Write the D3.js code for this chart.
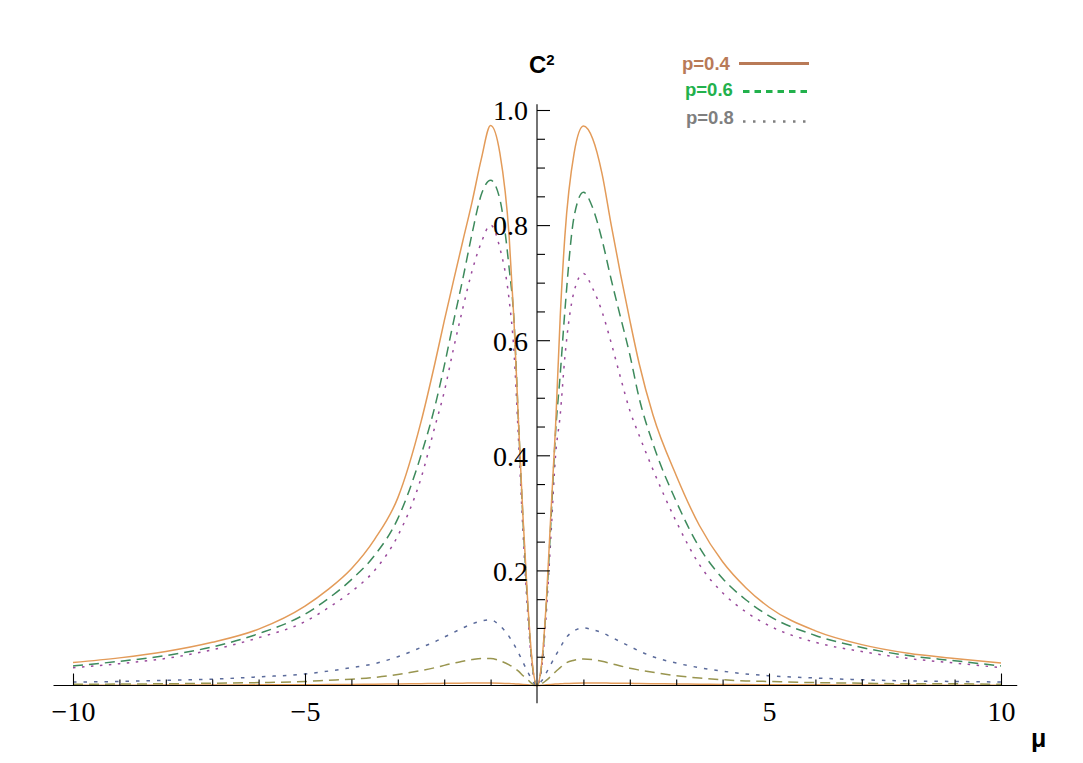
<!DOCTYPE html>
<html>
<head>
<meta charset="utf-8">
<script src="https://cdn.jsdelivr.net/npm/d3@7"></script>
<style>
  html, body { margin: 0; padding: 0; background: #ffffff; }
  svg { display: block; }
</style>
</head>
<body>
<svg id="chart" width="1083" height="763"></svg>
<script>
// ---- data ----
const mu = [-10,-9,-8,-7,-6,-5,-4.5,-4,-3.5,-3,-2.5,-2.2,-2,-1.8,-1.6,-1.4,-1.2,-1,-0.8,-0.6,-0.5,-0.4,-0.3,-0.2,-0.1,
            0,
            0.1,0.2,0.3,0.4,0.5,0.6,0.8,1,1.2,1.4,1.6,1.8,2,2.2,2.5,3,3.5,4,4.5,5,6,7,8,9,10];

const orangeBig = [0.040,0.048,0.059,0.075,0.098,0.138,0.167,0.203,0.254,0.326,0.458,0.56,0.633,0.703,0.772,0.840,0.915,0.973,0.925,0.78,0.64,0.46,0.29,0.145,0.038,
  0,
  0.038,0.145,0.30,0.45,0.64,0.78,0.925,0.972,0.95,0.89,0.80,0.715,0.635,0.56,0.47,0.365,0.278,0.215,0.170,0.136,0.095,0.071,0.056,0.047,0.039];

const greenBig = [0.034,0.042,0.052,0.067,0.090,0.124,0.151,0.184,0.226,0.29,0.40,0.485,0.555,0.632,0.706,0.785,0.853,0.878,0.845,0.725,0.64,0.46,0.285,0.14,0.035,
  0,
  0.035,0.14,0.285,0.44,0.54,0.65,0.815,0.857,0.83,0.775,0.705,0.64,0.575,0.50,0.42,0.32,0.24,0.186,0.149,0.121,0.087,0.066,0.052,0.043,0.034];

const purpleBig = [0.031,0.038,0.047,0.062,0.083,0.111,0.135,0.163,0.20,0.26,0.36,0.45,0.51,0.585,0.655,0.72,0.77,0.80,0.76,0.67,0.585,0.43,0.265,0.125,0.03,
  0,
  0.03,0.125,0.26,0.40,0.47,0.57,0.685,0.716,0.69,0.65,0.595,0.535,0.478,0.435,0.375,0.285,0.21,0.161,0.128,0.104,0.075,0.059,0.047,0.039,0.031];

const blueSmall = [0.006,0.007,0.009,0.011,0.015,0.020,0.025,0.031,0.038,0.050,0.066,0.076,0.084,0.092,0.100,0.107,0.112,0.114,0.104,0.085,0.072,0.057,0.040,0.024,0.008,
  0,
  0.008,0.022,0.037,0.052,0.066,0.080,0.095,0.100,0.097,0.092,0.084,0.076,0.068,0.060,0.050,0.039,0.031,0.025,0.020,0.017,0.013,0.010,0.008,0.007,0.006];

const oliveSmall = [0.002,0.0025,0.003,0.004,0.005,0.007,0.009,0.011,0.014,0.019,0.026,0.031,0.035,0.039,0.042,0.045,0.047,0.047,0.043,0.036,0.031,0.025,0.017,0.010,0.003,
  0,
  0.003,0.009,0.016,0.024,0.031,0.038,0.044,0.046,0.045,0.042,0.038,0.034,0.030,0.027,0.023,0.017,0.013,0.010,0.008,0.007,0.005,0.004,0.003,0.003,0.002];

const orangeSmall = [0.0005,0.0006,0.0007,0.0009,0.0011,0.0014,0.0016,0.0019,0.0023,0.0027,0.0032,0.0035,0.0037,0.0039,0.0041,0.0042,0.0043,0.0043,0.0041,0.0036,0.0032,0.0026,0.0019,0.0011,0.0003,
  0,
  0.0003,0.0011,0.0019,0.0026,0.0032,0.0036,0.0041,0.0043,0.0043,0.0042,0.0041,0.0039,0.0037,0.0035,0.0032,0.0027,0.0023,0.0019,0.0016,0.0014,0.0011,0.0009,0.0007,0.0006,0.0005];

const xMajorTicks = [-10, -5, 5, 10];
const xMajorLabels = ["\u221210", "\u22125", "5", "10"];
const xMinorTicks = [-9,-8,-7,-6,-4,-3,-2,-1,1,2,3,4,6,7,8,9];
const yMajorTicks = [0.2, 0.4, 0.6, 0.8, 1.0];
const yMajorLabels = ["0.2", "0.4", "0.6", "0.8", "1.0"];
const yMinorTicks = [0.05,0.1,0.15,0.25,0.3,0.35,0.45,0.5,0.55,0.65,0.7,0.75,0.85,0.9,0.95];

const legendLabels = ["p=0.4", "p=0.6", "p=0.8"];

// ---- drawing ----
const svg = d3.select("#chart");
const x = d3.scaleLinear().domain([-10, 10]).range([73, 1001]);
const y = d3.scaleLinear().domain([0, 1]).range([685.5, 110]);

const series = [
  { v: orangeSmall, color: "#e39b59", dash: null },
  { v: oliveSmall,  color: "#99954f", dash: "10,6" },
  { v: blueSmall,   color: "#5b6b9b", dash: "3.5,7" },
  { v: purpleBig,   color: "#9a4a9c", dash: "2.5,6.5" },
  { v: greenBig,    color: "#3d8a5c", dash: "10,6" },
  { v: orangeBig,   color: "#e39b59", dash: null }
];

const line = d3.line()
  .x((d, i) => x(mu[i]))
  .y(d => y(d))
  .curve(d3.curveMonotoneX);

const gCurves = svg.append("g");
series.forEach(s => {
  gCurves.append("path")
    .datum(s.v)
    .attr("d", line)
    .attr("fill", "none")
    .attr("stroke", s.color)
    .attr("stroke-width", 1.5)
    .attr("stroke-dasharray", s.dash)
    .attr("stroke-linejoin", "round");
});

// axes lines
const axisG = svg.append("g").attr("stroke", "#000").attr("stroke-width", 1.1);
axisG.append("line")
  .attr("x1", x(-10.42)).attr("x2", x(10.35))
  .attr("y1", y(0)).attr("y2", y(0));
axisG.append("line")
  .attr("x1", x(0)).attr("x2", x(0))
  .attr("y1", y(1.01)).attr("y2", y(-0.031));

// x ticks via d3 axis (ticks pointing upward)
const xAxisMinor = d3.axisBottom(x).tickValues(xMinorTicks).tickSize(-6).tickFormat("");
const xAxisMajor = d3.axisBottom(x).tickValues(xMajorTicks).tickSize(-12)
  .tickFormat((d, i) => xMajorLabels[i]);
const gxMinor = svg.append("g").attr("transform", `translate(0,${y(0)})`).call(xAxisMinor);
const gxMajor = svg.append("g").attr("transform", `translate(0,${y(0)})`).call(xAxisMajor);
[gxMinor, gxMajor].forEach(g => {
  g.select(".domain").remove();
  g.selectAll(".tick line").attr("stroke", "#000").attr("stroke-width", 1.1);
});
gxMajor.selectAll(".tick text")
  .attr("fill", "#000")
  .attr("y", 35.5).attr("dy", null)
  .style("font-family", "'Liberation Serif', 'Times New Roman', serif")
  .style("font-size", "28px");

// y ticks via d3 axis (ticks pointing right)
const yAxisMinor = d3.axisLeft(y).tickValues(yMinorTicks).tickSize(-8).tickFormat("");
const yAxisMajor = d3.axisLeft(y).tickValues(yMajorTicks).tickSize(-13)
  .tickFormat((d, i) => yMajorLabels[i]);
const gyMinor = svg.append("g").attr("transform", `translate(${x(0)},0)`).call(yAxisMinor);
const gyMajor = svg.append("g").attr("transform", `translate(${x(0)},0)`).call(yAxisMajor);
[gyMinor, gyMajor].forEach(g => {
  g.select(".domain").remove();
  g.selectAll(".tick line").attr("stroke", "#000").attr("stroke-width", 1.1);
});
gyMajor.selectAll(".tick text")
  .attr("fill", "#000")
  .attr("x", -9)
  .attr("dy", "0.35em")
  .attr("text-anchor", "end")
  .style("font-family", "'Liberation Serif', 'Times New Roman', serif")
  .style("font-size", "28px");

// axis labels
const cLab = svg.append("text")
  .attr("x", 529).attr("y", 73)
  .style("font-family", "'Liberation Sans', Arial, sans-serif")
  .style("font-weight", "bold")
  .style("font-size", "24px")
  .attr("fill", "#000");
cLab.append("tspan").text("C");
cLab.append("tspan").attr("dy", -8).style("font-size", "15px").text("2");

svg.append("text")
  .attr("x", 1031).attr("y", 747)
  .style("font-family", "'Liberation Sans', Arial, sans-serif")
  .style("font-weight", "bold")
  .style("font-size", "25px")
  .attr("fill", "#000")
  .text("\u03bc");

// legend
const legendColors = ["#b97a57", "#22b14c", "#7f7f7f"];
const legendTextX = [682, 685, 686];
const legendY = [70, 96, 124];
const legendLineY = [63.5, 91.5, 121.5];
const legendLineX = [[739, 809], [743, 812], [743, 806]];
const legendDash = [null, "6.5,5", "2.5,7.5"];
legendLabels.forEach((lab, i) => {
  svg.append("text")
    .attr("x", legendTextX[i]).attr("y", legendY[i])
    .style("font-family", "'Liberation Sans', Arial, sans-serif")
    .style("font-weight", "bold")
    .style("font-size", "18.5px")
    .attr("fill", legendColors[i])
    .text(lab);
  svg.append("line")
    .attr("x1", legendLineX[i][0]).attr("x2", legendLineX[i][1])
    .attr("y1", legendLineY[i]).attr("y2", legendLineY[i])
    .attr("stroke", legendColors[i])
    .attr("stroke-width", i === 2 ? 2.5 : 3)
    .attr("stroke-dasharray", legendDash[i]);
});
</script>
</body>
</html>
